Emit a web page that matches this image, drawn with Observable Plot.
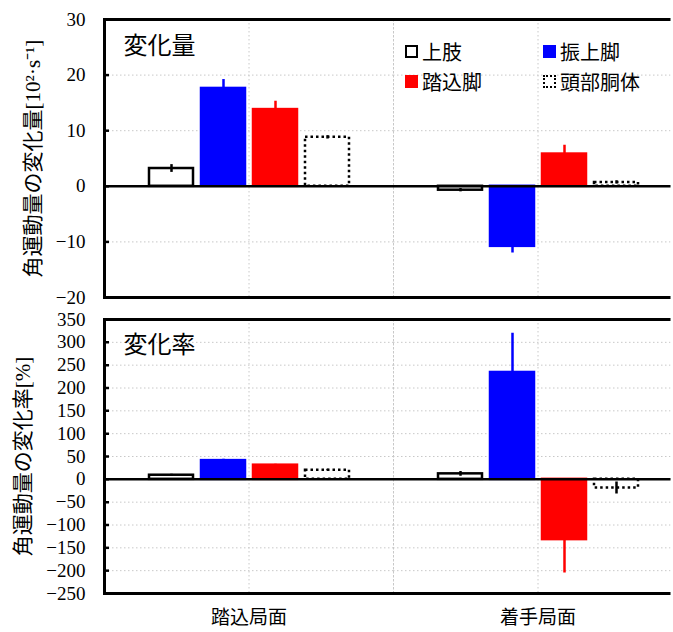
<!DOCTYPE html>
<html><head><meta charset="utf-8">
<script src="https://cdn.jsdelivr.net/npm/d3@7"></script>
<script src="https://cdn.jsdelivr.net/npm/@observablehq/plot@0.6"></script>
<style>
body{margin:0;background:#fff;width:673px;height:632px;overflow:hidden;position:relative;font-family:'Noto Sans CJK JP',sans-serif}
#top,#bottom{position:absolute;left:0}
#top{top:0}
#bottom{top:305px}
#top svg,#bottom svg{clip-path:inset(-50px 2.5px -50px -50px)}
#legend{position:absolute;left:405px;top:36px;display:grid;grid-template-columns:138px 138px;grid-auto-rows:30px;font-size:20px;color:#000}
#legend .item{display:flex;align-items:center;white-space:nowrap}
#legend .sw{width:13px;height:13px;box-sizing:border-box;margin-right:4px;flex:none}
</style></head><body>
<div id="top"></div><div id="bottom"></div><div id="legend"></div>
<script>
const categories = ["踏込局面", "着手局面"];
const series = ["上肢", "振上脚", "踏込脚", "頭部胴体"];
const amountTicks = [-20, -10, 0, 10, 20, 30];
const amountValues = [[3.2, 17.6, 13.8, 8.8], [-0.7, -10.8, 5.8, 0.7]];
const amountErrors = [[0.7, 1.6, 1.5, 0.3], [0.3, 1.2, 1.6, 0.3]];
const rateTicks = [-250, -200, -150, -100, -50, 0, 50, 100, 150, 200, 250, 300, 350];
const rateValues = [[9, 41, 31, 20], [12, 234, -132, -19]];
const rateErrors = [[2, 3, 2, 2], [5, 86, 73, 13]];
const panelTitles = ["変化量", "変化率"];
const yTitles = ["角運動量の変化量[10²·s⁻¹]", "角運動量の変化率[%]"];

// styles per series
const fills = ["white", "#0000ff", "#ff0000", "white"];
const strokes = ["black", "#0000ff", "#ff0000", "black"];
const dashes = [undefined, undefined, undefined, "2.5,3"];

function panel({values, errors, ticks, yTitle, title, height, marginTop, marginBottom, showCats, yTitleDx, titleDy}) {
  const rows = categories.flatMap((cat, ci) => series.map((s, si) => ({cat, s, si, v: values[ci][si], e: errors[ci][si]})));
  const grid = {stroke: "#c8c8c8", strokeDasharray: "1.5,2.5", strokeWidth: 1};
  const marks = [
    Plot.ruleY(ticks.slice(1, -1), {y: d => d, ...grid}),
    Plot.gridFx({...grid, strokeOpacity: 1}),
    Plot.frame({anchor: "left", ...grid}),
    ...series.map((s, si) => Plot.barY(rows.filter(r => r.si === si), {
      fx: "cat", x: "s", y: "v", fill: fills[si], stroke: strokes[si], strokeWidth: 2.5, strokeDasharray: dashes[si]
    })),
    ...series.map((s, si) => Plot.ruleX(rows.filter(r => r.si === si), {
      fx: "cat", x: "s", y1: d => d.v - d.e, y2: d => d.v + d.e, stroke: strokes[si], strokeWidth: 2.5
    })),
    Plot.ruleY([0], {stroke: "black", strokeWidth: 2.5}),
    Plot.frame({stroke: "black", strokeWidth: 3, facet: "super"}),
    Plot.axisY(ticks, {anchor: "left", tickSize: -5, tickPadding: 24, fontSize: 19, label: null, strokeWidth: 2.5,
      fontFamily: "'Liberation Serif', 'DejaVu Serif', serif"}),
    Plot.text([{cat: categories[0], t: title}], {fx: "cat", text: "t", frameAnchor: "top-left", dx: 19, dy: titleDy,
      fontSize: 24, lineAnchor: "top", textAnchor: "start"}),
    Plot.text([{cat: categories[0], t: yTitle}], {fx: "cat", text: "t", frameAnchor: "left", rotate: -90, dx: yTitleDx,
      textAnchor: "middle", fontSize: 21, fontFamily: "'Liberation Serif', 'Noto Sans CJK JP', serif"})
  ];
  if (showCats) marks.push(Plot.axisFx({anchor: "bottom", tickSize: 0, tickPadding: 17, fontSize: 19, label: null}));
  return Plot.plot({
    width: 673, height, marginLeft: 104, marginRight: 4, marginTop, marginBottom,
    fx: {domain: categories, range: [104, 682], padding: 0, axis: null},
    x: {domain: series, paddingInner: 0.16, paddingOuter: 0.84, axis: null},
    y: {domain: [ticks[0], ticks[ticks.length - 1]], axis: null},
    style: {fontFamily: "'Noto Sans CJK JP', sans-serif", color: "black", background: "white", overflow: "visible"},
    marks
  });
}

document.getElementById("top").append(panel({
  values: amountValues, errors: amountErrors, ticks: amountTicks, yTitle: yTitles[0], title: panelTitles[0],
  height: 305, marginTop: 19, marginBottom: 8, showCats: false, yTitleDx: -71, titleDy: 17
}));
document.getElementById("bottom").append(panel({
  values: rateValues, errors: rateErrors, ticks: rateTicks, yTitle: yTitles[1], title: panelTitles[1],
  height: 327, marginTop: 14, marginBottom: 39, showCats: true, yTitleDx: -81, titleDy: 16
}));

const swatchStyles = [
  "background:white;border:2.5px solid black",
  "background:#0000ff",
  "background:#ff0000",
  "background:white;border:2.5px dotted black"
];
const legend = document.getElementById("legend");
series.forEach((s, i) => {
  const item = document.createElement("div");
  item.className = "item";
  const sw = document.createElement("span");
  sw.className = "sw";
  sw.style.cssText = swatchStyles[i];
  item.append(sw, document.createTextNode(s));
  legend.append(item);
});
</script>
</body></html>
